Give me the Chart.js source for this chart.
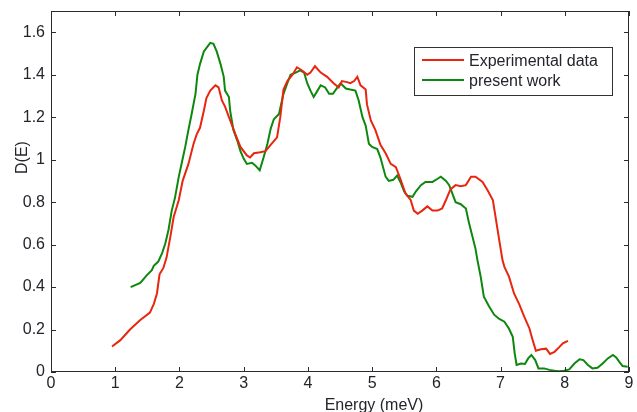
<!DOCTYPE html>
<html>
<head>
<meta charset="utf-8">
<script src="https://cdn.jsdelivr.net/npm/chart.js@4/dist/chart.umd.min.js"></script>
<style>
  html, body { margin: 0; padding: 0; background: #ffffff; }
  #wrap { width: 637px; height: 412px; }
</style>
</head>
<body>
<div id="wrap"><canvas id="c" width="637" height="412"></canvas></div>
<script>
// ---- Data ----
const seriesNames = ["Experimental data", "present work"];

const expEnergy = [0.95,1.08,1.23,1.39,1.54,1.60,1.65,1.69,1.75,1.80,1.86,1.91,1.99,2.05,2.14,2.22,2.27,2.32,2.38,2.42,2.48,2.56,2.61,2.66,2.71,2.79,2.87,2.95,3.05,3.10,3.16,3.26,3.34,3.42,3.52,3.57,3.62,3.68,3.76,3.83,3.91,3.99,4.04,4.11,4.20,4.30,4.40,4.48,4.53,4.61,4.66,4.72,4.77,4.82,4.90,4.92,4.98,5.05,5.13,5.21,5.29,5.37,5.44,5.52,5.60,5.65,5.71,5.78,5.86,5.94,6.02,6.09,6.15,6.22,6.30,6.38,6.46,6.54,6.61,6.72,6.80,6.88,6.93,6.98,7.03,7.06,7.13,7.21,7.29,7.37,7.45,7.50,7.55,7.63,7.71,7.77,7.84,7.91,7.97,8.05];
const expD = [0.12,0.15,0.20,0.245,0.28,0.32,0.37,0.46,0.49,0.54,0.64,0.73,0.81,0.90,0.98,1.075,1.12,1.15,1.23,1.29,1.325,1.35,1.34,1.28,1.25,1.185,1.12,1.06,1.02,1.01,1.03,1.035,1.04,1.07,1.105,1.20,1.33,1.37,1.40,1.435,1.42,1.40,1.41,1.44,1.41,1.39,1.36,1.34,1.37,1.365,1.36,1.37,1.39,1.35,1.33,1.26,1.185,1.14,1.07,1.03,0.98,0.965,0.91,0.84,0.81,0.76,0.745,0.76,0.78,0.76,0.76,0.77,0.81,0.86,0.88,0.875,0.88,0.92,0.92,0.895,0.855,0.81,0.715,0.62,0.527,0.495,0.45,0.37,0.32,0.26,0.205,0.15,0.10,0.107,0.11,0.085,0.095,0.116,0.135,0.147];

const calcEnergy = [1.24,1.39,1.49,1.57,1.60,1.67,1.73,1.78,1.83,1.88,1.93,1.99,2.04,2.09,2.14,2.19,2.25,2.28,2.32,2.38,2.43,2.48,2.53,2.58,2.64,2.69,2.71,2.77,2.79,2.84,2.90,2.95,3.00,3.05,3.13,3.18,3.25,3.31,3.37,3.42,3.47,3.55,3.62,3.68,3.73,3.81,3.88,3.94,3.99,4.04,4.09,4.15,4.20,4.27,4.33,4.39,4.46,4.51,4.59,4.66,4.74,4.79,4.85,4.90,4.95,5.00,5.08,5.13,5.21,5.26,5.33,5.39,5.44,5.50,5.55,5.63,5.68,5.76,5.83,5.94,6.02,6.07,6.15,6.20,6.25,6.30,6.38,6.46,6.51,6.56,6.61,6.64,6.69,6.74,6.82,6.90,6.98,7.06,7.13,7.19,7.22,7.25,7.32,7.38,7.43,7.48,7.54,7.59,7.68,7.76,7.84,7.91,7.99,8.07,8.15,8.23,8.29,8.36,8.43,8.51,8.59,8.67,8.75,8.80,8.85,8.90,8.98];
const calcD = [0.40,0.42,0.455,0.48,0.50,0.52,0.56,0.605,0.67,0.76,0.82,0.92,0.99,1.06,1.14,1.215,1.31,1.40,1.45,1.51,1.53,1.55,1.545,1.51,1.45,1.39,1.325,1.295,1.23,1.14,1.09,1.04,1.005,0.98,0.985,0.973,0.95,1.01,1.075,1.145,1.19,1.215,1.31,1.36,1.40,1.41,1.42,1.41,1.36,1.325,1.295,1.325,1.35,1.34,1.31,1.31,1.34,1.36,1.335,1.33,1.325,1.28,1.20,1.16,1.075,1.06,1.05,1.01,0.92,0.90,0.905,0.925,0.895,0.85,0.83,0.825,0.85,0.88,0.895,0.895,0.91,0.92,0.90,0.88,0.84,0.80,0.79,0.77,0.70,0.64,0.58,0.527,0.45,0.355,0.31,0.27,0.25,0.237,0.205,0.166,0.088,0.033,0.04,0.038,0.064,0.08,0.056,0.017,0.017,0.01,0.006,0.004,0.006,0.012,0.04,0.06,0.056,0.033,0.017,0.02,0.04,0.064,0.08,0.069,0.048,0.028,0.025];

const xTickValues = [0,1,2,3,4,5,6,7,8,9];
const yTickValues = [0,0.2,0.4,0.6,0.8,1,1.2,1.4,1.6];
const xAxisTitle = "Energy (meV)";
const yAxisTitle = "D(E)";

// ---- styling ----
const FONT = '"Liberation Sans", Arial, sans-serif';
const TEXT = '#24242c';
const AXIS = '#2b2b2b';
const RED = '#e8260f';
const GREEN = '#0e870e';

function pts(xs, ys) { return xs.map((x, i) => ({ x: x, y: ys[i] })); }
function fmt(v) { return String(Number(Number(v).toFixed(2))); }

const boxAndTicks = {
  id: 'boxAndTicks',
  afterDatasetsDraw(chart) {
    const { ctx, chartArea: a, scales } = chart;
    ctx.save();
    ctx.strokeStyle = AXIS;
    ctx.lineWidth = 1;
    ctx.strokeRect(Math.round(a.left) + 0.5, Math.round(a.top) + 0.5,
                   Math.round(a.right - a.left) - 1, Math.round(a.bottom - a.top) - 1);
    const L = 5;
    ctx.beginPath();
    scales.x.ticks.forEach(t => {
      const px = Math.round(scales.x.getPixelForValue(t.value)) + 0.5;
      ctx.moveTo(px, a.bottom); ctx.lineTo(px, a.bottom - L);
      ctx.moveTo(px, a.top); ctx.lineTo(px, a.top + L);
    });
    scales.y.ticks.forEach(t => {
      const py = Math.round(scales.y.getPixelForValue(t.value)) + 0.5;
      ctx.moveTo(a.left, py); ctx.lineTo(a.left + L, py);
      ctx.moveTo(a.right, py); ctx.lineTo(a.right - L, py);
    });
    ctx.stroke();

    // axis titles
    ctx.fillStyle = TEXT;
    ctx.font = '16px ' + FONT;
    ctx.textAlign = 'center';
    ctx.textBaseline = 'alphabetic';
    ctx.fillText(xAxisTitle, 374, 409.5);
    ctx.save();
    ctx.translate(27, 157.5);
    ctx.rotate(-Math.PI / 2);
    ctx.fillText(yAxisTitle, 0, 0);
    ctx.restore();

    // legend box
    const bx = 414, by = 47, bw = 198, bh = 48;
    ctx.fillStyle = '#ffffff';
    ctx.fillRect(bx, by, bw, bh);
    ctx.strokeStyle = '#333333';
    ctx.lineWidth = 1;
    ctx.strokeRect(bx + 0.5, by + 0.5, bw, bh);
    chart.data.datasets.forEach((ds, i) => {
      const ly = by + 13 + i * 20;
      ctx.strokeStyle = ds.borderColor;
      ctx.lineWidth = 2;
      ctx.beginPath();
      ctx.moveTo(bx + 8, ly); ctx.lineTo(bx + 50, ly);
      ctx.stroke();
      ctx.fillStyle = TEXT;
      ctx.textAlign = 'left';
      ctx.font = '16px ' + FONT;
      ctx.fillText(ds.label, bx + 55, ly + 6);
    });
    ctx.restore();
  }
};

new Chart(document.getElementById('c'), {
  type: 'line',
  data: {
    datasets: [
      { label: seriesNames[0], data: pts(expEnergy, expD), borderColor: RED, backgroundColor: RED,
        borderWidth: 2, pointRadius: 0, tension: 0, fill: false },
      { label: seriesNames[1], data: pts(calcEnergy, calcD), borderColor: GREEN, backgroundColor: GREEN,
        borderWidth: 2, pointRadius: 0, tension: 0, fill: false }
    ]
  },
  options: {
    responsive: false,
    animation: false,
    layout: { padding: { left: 0, right: 8, top: 11, bottom: 0 } },
    plugins: { legend: { display: false }, tooltip: { enabled: false }, title: { display: false } },
    scales: {
      x: {
        type: 'linear', min: 0, max: 9,
        afterBuildTicks: s => { s.ticks = xTickValues.map(v => ({ value: v })); },
        afterFit: s => { s.height = 40; s.paddingLeft = 0; s.paddingRight = 0; },
        grid: { display: false, drawTicks: false },
        border: { display: false },
        ticks: { padding: 2, color: TEXT, font: { family: FONT, size: 16 }, maxRotation: 0, autoSkip: false,
                 callback: v => fmt(v) }
      },
      y: {
        type: 'linear', min: 0, max: 1.7,
        afterBuildTicks: s => { s.ticks = yTickValues.map(v => ({ value: v })); },
        afterFit: s => { s.width = 51; s.paddingTop = 0; s.paddingBottom = 0; },
        grid: { display: false, drawTicks: false },
        border: { display: false },
        ticks: { padding: 6, color: TEXT, font: { family: FONT, size: 16 }, autoSkip: false,
                 callback: v => fmt(v) }
      }
    }
  },
  plugins: [boxAndTicks]
});
</script>
</body>
</html>
